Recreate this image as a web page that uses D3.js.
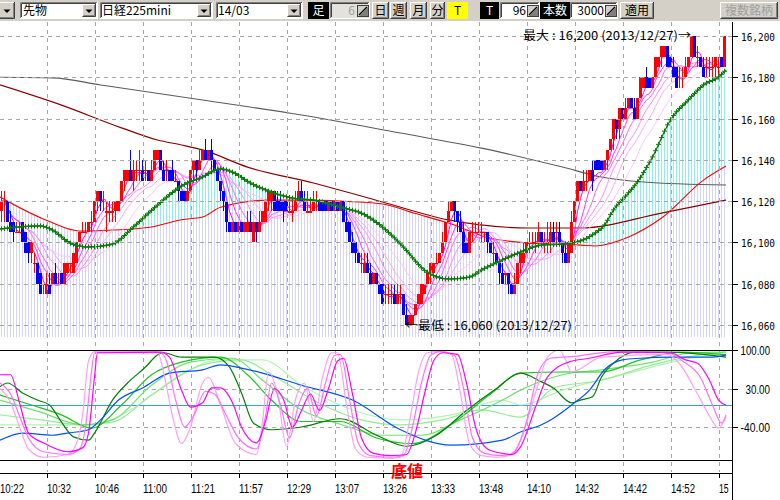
<!DOCTYPE html>
<html lang="ja"><head><meta charset="utf-8"><title>日経225mini</title>
<script src="https://cdn.jsdelivr.net/npm/d3@7/dist/d3.min.js"></script>
<style>html,body{margin:0;padding:0;background:#fff;overflow:hidden}svg{display:block}</style>
</head><body>
<svg id="chart" width="780" height="500"></svg>
<script>
// ---------------- DATA (price = BASE + value) ----------------
const BASE = 16000;
const opens = [
115,120,120,110,110,105,105,110,105,100,95,90,90,85,80,75,
80,80,85,80,85,80,85,90,85,90,100,105,105,105,110,110,
120,125,120,115,115,115,115,115,120,130,130,135,130,135,135,135,
135,135,130,135,140,145,135,135,135,135,130,130,125,125,120,125,
135,140,135,140,145,140,145,140,135,130,125,120,110,105,110,105,
110,105,105,110,100,110,105,110,110,120,120,125,120,120,120,120,
115,115,115,120,125,120,115,115,115,120,120,120,120,115,120,115,
120,115,120,110,110,100,100,95,90,85,90,85,80,85,80,80,
75,75,75,75,70,75,75,65,60,60,65,70,70,75,80,85,
85,90,90,95,100,110,115,120,115,110,105,100,95,105,105,105,
105,105,105,100,95,95,90,85,85,85,80,75,80,90,90,95,
100,100,100,100,105,100,100,100,105,105,105,100,95,90,95,110,
120,130,125,130,130,135,140,140,140,135,140,145,150,160,155,165,
160,165,170,165,160,170,175,180,180,175,180,185,190,190,195,190,
185,185,180,180,180,185,190,200,190,190,185,185,185,185,185,185,190,185];
const closes = [
120,120,110,105,105,105,105,100,95,95,100,90,80,75,80,80,
75,85,80,80,80,90,90,90,95,100,105,105,105,110,110,120,
125,120,120,115,115,115,120,120,130,135,135,130,135,135,135,130,
135,130,135,145,145,135,130,135,130,130,130,125,120,120,125,135,
140,135,140,145,140,145,140,135,130,125,120,110,105,110,105,110,
105,110,110,105,110,105,110,115,120,125,125,115,115,115,115,115,
115,115,120,125,120,115,115,115,120,120,115,115,115,120,115,120,
115,120,110,105,100,95,95,90,90,90,85,80,85,80,75,70,
75,75,75,70,75,75,65,60,65,65,70,75,80,80,85,90,
90,90,95,100,110,115,120,115,110,105,95,95,105,105,105,105,
105,105,100,95,95,90,85,80,85,80,75,80,90,95,95,100,
100,100,100,105,100,100,100,105,100,105,100,95,90,100,110,120,
130,125,130,130,135,130,135,135,135,140,145,150,160,155,165,160,
165,170,165,160,170,180,180,175,175,180,190,190,195,195,185,185,
180,175,180,180,185,190,200,190,190,185,180,185,185,185,190,185,185,200];
const highs = [
125,125,120,115,110,110,110,110,105,100,100,95,90,85,80,85,
85,85,90,85,85,90,90,90,95,100,105,110,110,110,115,120,
125,125,125,120,120,120,120,120,130,135,135,145,140,140,145,140,
140,135,140,145,145,145,140,140,135,140,135,130,125,125,130,135,
140,140,145,145,150,145,150,140,135,130,125,120,110,110,110,110,
110,110,115,115,110,110,115,115,120,125,125,125,125,125,120,120,
120,120,125,130,130,125,125,120,125,125,120,120,120,120,120,120,
120,120,120,115,110,105,100,95,95,95,95,90,85,85,80,80,
80,80,80,80,80,80,75,70,65,65,70,75,80,80,85,90,
90,95,95,105,110,120,120,120,115,115,110,100,105,110,110,110,
110,105,105,100,100,95,90,90,85,85,80,85,90,95,100,100,
105,105,105,110,105,105,110,110,110,110,110,100,100,100,115,120,
130,130,135,135,135,140,140,140,140,140,145,150,160,160,165,165,
170,170,170,170,170,180,180,185,180,180,190,190,195,195,195,190,
190,185,185,185,190,190,200,200,195,190,190,190,190,190,190,190,190,200];
const lows = [
110,110,110,105,100,105,105,100,95,90,90,85,80,75,75,75,
75,80,80,80,80,80,85,85,85,90,100,105,105,105,105,110,
115,115,115,105,110,110,110,115,120,125,130,130,125,130,130,130,
130,130,130,135,140,135,130,130,130,130,130,120,120,120,120,125,
130,130,135,140,140,140,135,135,130,120,115,105,105,105,105,105,
105,105,105,105,100,100,105,110,110,115,115,115,115,115,110,115,
115,110,115,120,120,115,115,115,115,115,115,115,115,115,115,115,
115,115,110,105,100,95,90,90,85,85,85,80,80,80,75,70,
70,70,70,70,70,70,65,60,60,60,65,70,70,75,80,80,
85,90,90,95,100,110,115,110,105,105,95,95,95,100,105,105,
100,100,95,95,90,90,80,80,80,75,75,75,80,85,90,95,
95,100,95,100,100,95,95,95,100,100,100,90,90,90,95,110,
120,125,125,125,130,125,135,135,135,135,135,145,145,150,150,160,
160,165,165,160,160,170,175,175,175,175,180,185,185,190,185,185,
180,175,175,175,180,185,190,190,185,185,180,180,180,180,180,180,185,185];

const timeLabels = ["10:22","10:32","10:46","11:00","11:21","11:57","12:29","13:07","13:26","13:33","13:48","14:10","14:32","14:42","14:52","15"];
const priceTicks = [16060,16080,16100,16120,16140,16160,16180,16200];
const oscTicks = [100,30,-40];
const pinkPeriods = [4,7,10,14,18,24];

// moving averages: [bar, value]
const maGreen = [[0,106.5],[13,108],[17,106],[23,99.7],[29,97.8],[37,99.2],[44,107.5],[52,118],[60,127.3],[67,131.7],[73,135.6],[77,134.1],[83,128.8],[90,124.4],[97,121.5],[104,120.5],[114,116.7],[120,114.2],[127,107.5],[134,97.8],[141,86.6],[149,82.3],[156,83.2],[160,86.6],[167,91.5],[173,95.3],[180,98.7],[187,99.2],[193,100.7],[198,104.6],[201,108.4],[204,115.7],[209,123.9],[212,129.3],[217,141.4],[223,159.3],[229,169],[234,176.3],[239,180.1],[241,183.5]];
const maRed = [[0,122],[13,112],[27,105.5],[37,106],[50,107.5],[60,111],[67,112.3],[73,117],[89,120.5],[102,120.5],[113,120],[127,118.6],[138,114],[149,109.4],[163,102],[176,99.7],[193,98.7],[198,98.3],[209,102.6],[220,111.8],[234,130.2],[241,137]];
const maDarkRed = [[0,176.3],[20,166.5],[40,155.5],[52,149.6],[60,147.2],[67,144.8],[82,136.5],[104,128.8],[127,119.6],[149,110.9],[176,107],[193,107],[220,114.2],[241,120.5]];
const maGrey = [[0,180],[17,179.7],[33,176.3],[67,169],[100,161.7],[133,153],[160,145.7],[187,136.5],[200,131.7],[214,129.3],[241,127.8]];

// oscillator (RCI style, -100..100): [bar, value]
const rciMagenta = [[0,55],[3,55],[6,4],[9,-51],[14,-69],[22,-85],[27,-78],[29,-51],[31,51],[32,95],[53,96],[56,87],[60,27],[63,-4],[67,4],[70,31],[73,31],[77,4],[80,-40],[85,-69],[88,-30],[91,30],[94,10],[97,-40],[100,-10],[103,20],[106,-10],[109,30],[112,80],[114,85],[117,20],[120,-60],[124,-88],[130,-92],[135,-90],[138,-50],[141,20],[144,80],[147,95],[152,92],[155,40],[158,-40],[162,-80],[167,-88],[170,-90],[173,-76],[178,-4],[182,51],[189,78],[196,85],[207,96],[223,95],[228,82],[232,76],[236,45],[239,9],[241,0]];
const rciPink = [[0,40],[3,20],[6,-20],[9,-60],[14,-85],[22,-90],[26,-80],[28,-40],[30,60],[31,95],[53,95],[55,80],[58,10],[61,-40],[64,-20],[68,25],[71,20],[75,-20],[79,-60],[85,-80],[88,-20],[90,40],[93,0],[96,-60],[99,0],[102,30],[105,-20],[108,40],[111,90],[113,92],[116,10],[119,-70],[123,-92],[130,-95],[134,-92],[137,-40],[140,40],[143,90],[146,97],[151,90],[154,30],[157,-60],[161,-88],[167,-92],[171,-85],[175,-30],[179,60],[183,85],[190,88],[205,97],[222,95],[227,80],[233,50],[237,0],[240,-33],[241,-18]];
const rciLightPink = [[0,30],[3,5],[6,-40],[9,-80],[14,-95],[22,-90],[25,-70],[27,-20],[29,80],[31,97],[52,97],[54,60],[57,-20],[60,-70],[63,-40],[67,40],[69,50],[73,0],[78,-70],[85,-90],[87,-30],[89,60],[92,20],[95,-75],[98,10],[101,40],[104,-30],[107,50],[110,95],[112,95],[115,0],[118,-80],[122,-95],[130,-97],[133,-95],[136,-30],[139,60],[142,95],[146,98],[150,92],[153,20],[156,-70],[160,-92],[166,-95],[170,-90],[173,-64],[179,40],[182,87],[186,100],[188,82],[190,60],[200,87],[222,92],[226,75],[232,20],[236,-20],[239,-42],[241,-22]];
const rciDarkGreen = [[0,33],[2,40],[7,22],[12,9],[16,0],[20,-31],[24,-58],[29,-64],[31,-51],[37,9],[42,40],[48,69],[52,91],[54,95],[60,87],[71,87],[76,69],[80,22],[84,-33],[90,-45],[100,-40],[113,-25],[125,-55],[135,-75],[145,-55],[155,-10],[165,30],[173,58],[180,42],[184,31],[190,4],[193,9],[197,15],[200,51],[204,76],[211,96],[222,96],[241,87]];
const rciGreen = [[0,18],[10,0],[20,-18],[30,-42],[40,0],[50,55],[60,78],[73,87],[82,55],[90,9],[100,-30],[113,-30],[125,-60],[137,-70],[150,-35],[163,20],[173,58],[187,60],[200,60],[213,82],[227,96],[241,91]];
const rciLight1 = [[0,9],[13,-13],[27,-36],[37,-27],[50,36],[63,78],[77,85],[87,45],[100,-9],[113,-35],[127,-55],[140,-55],[153,-27],[167,9],[173,27],[187,55],[200,64],[217,78],[230,95],[241,96]];
const rciLight2 = [[0,-18],[13,-27],[27,-36],[37,-31],[50,18],[67,73],[80,82],[90,55],[107,0],[120,-27],[133,-36],[147,-27],[160,-9],[173,-22],[184,31],[200,45],[217,73],[233,91],[241,96]];
const rciLight3 = [[0,-36],[17,-36],[30,-36],[43,-9],[57,45],[73,82],[87,82],[100,36],[117,-9],[133,-27],[150,-18],[167,9],[173,0],[187,27],[207,55],[227,82],[241,95]];
const rciBlue = [[0,-64],[7,-51],[17,-55],[22,-51],[29,-45],[33,-27],[39,9],[47,31],[56,58],[67,64],[73,73],[80,67],[87,58],[100,36],[117,9],[133,-45],[150,-73],[167,-64],[173,-49],[180,-36],[184,-24],[191,4],[196,27],[201,64],[207,82],[213,85],[223,87],[237,87],[241,91]];

// ---------------- DRAWING ----------------
const svg = d3.select('#chart');
const JP = '"Noto Sans CJK JP", sans-serif';
const MONO = '"DejaVu Sans Mono", monospace';
const N = closes.length;
const PLOT_R = 732, MAIN_T = 22, STRIPE_B = 337;
const x = d3.scaleLinear().domain([0, 240]).range([0, 720]);
const yP = d3.scaleLinear().domain([16060, 16200]).range([325, 36]);
const yO = d3.scaleLinear().domain([-100, 100]).range([460, 350]);
const cx = i => x(i) + 1.5;
const py = v => yP(BASE + v);
const kx = d => d[0] <= 0 ? 0 : d[0] >= N - 1 ? x(N) : cx(d[0]);

svg.append('rect').attr('width', 780).attr('height', 500).attr('fill', '#fff');
const defs = svg.append('defs');
[['lav', '#d4d4f6'], ['cya', '#8cefec']].forEach(([id, c]) => {
  const p = defs.append('pattern').attr('id', id).attr('patternUnits', 'userSpaceOnUse').attr('width', 3).attr('height', 4);
  p.append('rect').attr('x', 1).attr('y', 0).attr('width', 1).attr('height', 4).attr('fill', c);
});
defs.append('clipPath').attr('id', 'mainClip').append('rect').attr('x', 0).attr('y', MAIN_T).attr('width', PLOT_R).attr('height', 325);
defs.append('clipPath').attr('id', 'oscClip').append('rect').attr('x', 0).attr('y', 349).attr('width', PLOT_R).attr('height', 112);
const areaBelow = d3.area().x(kx).y0(STRIPE_B).y1(d => py(d[1])).curve(d3.curveMonotoneX);
const areaAbove = d3.area().x(kx).y0(MAIN_T).y1(d => py(d[1])).curve(d3.curveMonotoneX);
defs.append('clipPath').attr('id', 'aboveRed').append('path').attr('d', areaAbove(maRed));

const main = svg.append('g').attr('clip-path', 'url(#mainClip)');
main.append('path').attr('d', areaBelow(maRed)).attr('fill', 'url(#lav)');
main.append('path').attr('d', areaBelow(maGreen)).attr('fill', 'url(#cya)').attr('clip-path', 'url(#aboveRed)');

// grid
const grid = svg.append('g').attr('stroke', '#a8a8a8').attr('stroke-dasharray', '4,4').attr('shape-rendering', 'crispEdges');
priceTicks.forEach(p => {
  const yy = Math.round(yP(p)) + 0.5;
  grid.append('line').attr('x1', 0).attr('x2', PLOT_R).attr('y1', yy).attr('y2', yy);
});
[30, -40].forEach(v => {
  const yy = Math.round(yO(v)) + 0.5;
  grid.append('line').attr('x1', 0).attr('x2', PLOT_R).attr('y1', yy).attr('y2', yy);
});
timeLabels.forEach((t, k) => {
  if (k === 0) return;
  const xx = x(16 * k) - 0.5;
  grid.append('line').attr('x1', xx).attr('x2', xx).attr('y1', MAIN_T).attr('y2', 472);
});

// long moving averages
const lineP = d3.line().x(kx).y(d => py(d[1])).curve(d3.curveMonotoneX);
[[maGrey, '#5c5c5c', 1.1], [maDarkRed, '#8b0000', 1.2], [maRed, '#ff0000', 1.1]].forEach(([d, c, w]) => {
  main.append('path').attr('d', lineP(d)).attr('fill', 'none').attr('stroke', c).attr('stroke-width', w);
});

// short moving averages (pink fan) computed from closes
const pinkColors = ['#ff00ff', '#ff33ff', '#ff60ff', '#ff88ff', '#ffa8ff', '#ffc4ff'];
const lineS = d3.line().x(d => cx(d[0])).y(d => py(d[1]));
pinkPeriods.map((p, k) => [p, k]).reverse().forEach(([p, k]) => {
  const pts = closes.map((c, i) => [i, d3.mean(closes.slice(Math.max(0, i - p + 1), i + 1))]);
  main.append('path').attr('d', lineS(pts)).attr('fill', 'none').attr('stroke', pinkColors[k]).attr('stroke-width', 1);
});

// candles
const cg = main.append('g').attr('shape-rendering', 'crispEdges');
d3.range(N).forEach(i => {
  const o = opens[i], c = closes[i];
  const col = c < o ? '#0000ff' : '#ff0000';
  cg.append('rect').attr('x', x(i) + 1).attr('width', 1)
    .attr('y', py(highs[i])).attr('height', Math.max(1, py(lows[i]) - py(highs[i]))).attr('fill', col);
  const top = py(Math.max(o, c)), bot = py(Math.min(o, c));
  cg.append('rect').attr('x', x(i)).attr('width', 3).attr('y', top).attr('height', Math.max(1.2, bot - top)).attr('fill', col);
});

// green MA with + markers
const gp = main.append('path').attr('d', lineP(maGreen)).attr('fill', 'none').attr('stroke', '#0a7a0a').attr('stroke-width', 1.3);
const gnode = gp.node(), gL = gnode.getTotalLength();
const samples = d3.range(0, gL, 0.5).map(l => gnode.getPointAtLength(l));
const bis = d3.bisector(p => p.x).left;
let plusD = '';
d3.range(N).forEach(i => {
  const xc = cx(i);
  let j = Math.min(bis(samples, xc), samples.length - 1);
  const yy = samples[j].y;
  plusD += `M${xc - 2.5},${yy}h5M${xc},${yy - 2.5}v5`;
});
main.append('path').attr('d', plusD).attr('stroke', '#0a7a0a').attr('stroke-width', 1).attr('fill', 'none');

// annotations
svg.append('text').attr('x', 523).attr('y', 40).text('最大 : 16,200 (2013/12/27)→')
  .attr('font-family', JP).attr('font-size', 12).attr('textLength', 168).attr('lengthAdjust', 'spacingAndGlyphs').attr('fill', '#000');
svg.append('text').attr('x', 405).attr('y', 330).text('←最低 : 16,060 (2013/12/27)')
  .attr('font-family', JP).attr('font-size', 12).attr('textLength', 167).attr('lengthAdjust', 'spacingAndGlyphs').attr('fill', '#000');

// oscillator panel
const osc = svg.append('g').attr('clip-path', 'url(#oscClip)');
osc.append('line').attr('x1', 0).attr('x2', PLOT_R).attr('y1', yO(0) + 0.5).attr('y2', yO(0) + 0.5).attr('stroke', '#3399ff').attr('stroke-width', 1);
const lineO = d3.line().x(kx).y(d => yO(d[1])).curve(d3.curveMonotoneX);
[[rciLight3, '#b4f4b4'], [rciLight2, '#96ec96'], [rciLight1, '#6ce46c'], [rciGreen, '#1fc01f'], [rciDarkGreen, '#008000'],
 [rciBlue, '#0050ff'], [rciLightPink, '#ffa0f4'], [rciPink, '#ff70ff'], [rciMagenta, '#ff00ff']].forEach(([d, c]) => {
  osc.append('path').attr('d', lineO(d)).attr('fill', 'none').attr('stroke', c).attr('stroke-width', 1.2);
});
[100, -100].forEach(v => {
  svg.append('line').attr('x1', 0).attr('x2', PLOT_R).attr('y1', yO(v) + 0.5).attr('y2', yO(v) + 0.5).attr('stroke', '#000').attr('shape-rendering', 'crispEdges');
});

// axes
const ax = svg.append('g').attr('shape-rendering', 'crispEdges');
ax.append('line').attr('x1', PLOT_R + 0.5).attr('x2', PLOT_R + 0.5).attr('y1', MAIN_T).attr('y2', 500).attr('stroke', '#000');
ax.append('line').attr('x1', 0).attr('x2', PLOT_R).attr('y1', 473.5).attr('y2', 473.5).attr('stroke', '#000');
priceTicks.forEach(p => {
  const yy = Math.round(yP(p)) + 0.5;
  ax.append('line').attr('x1', PLOT_R).attr('x2', PLOT_R + 6).attr('y1', yy).attr('y2', yy).attr('stroke', '#000');
  svg.append('text').attr('x', 741).attr('y', yy + 4.5).text(d3.format(',')(p))
    .attr('font-family', MONO).attr('font-size', 11).attr('textLength', 34).attr('lengthAdjust', 'spacingAndGlyphs').attr('fill', '#000');
});
oscTicks.forEach(v => {
  const yy = Math.round(yO(v)) + 0.5;
  ax.append('line').attr('x1', PLOT_R).attr('x2', PLOT_R + 6).attr('y1', yy).attr('y2', yy).attr('stroke', '#000');
  const t = v.toFixed(2);
  svg.append('text').attr('x', 770).attr('y', yy + 4.5).attr('text-anchor', 'end').text(t)
    .attr('font-family', '"Liberation Sans", sans-serif').attr('font-size', 12).attr('textLength', t.length * 4.9).attr('lengthAdjust', 'spacingAndGlyphs').attr('fill', '#000');
});
timeLabels.forEach((t, k) => {
  const xx = x(16 * k) - 0.5;
  ax.append('line').attr('x1', xx).attr('x2', xx).attr('y1', 473).attr('y2', 478).attr('stroke', '#000');
  svg.append('text').attr('x', Math.max(0, xx - 0.5)).attr('y', 493).text(t)
    .attr('font-family', '"Liberation Sans", sans-serif').attr('font-size', 12).attr('textLength', t.length * 4.8).attr('lengthAdjust', 'spacingAndGlyphs').attr('fill', '#000');
});
svg.append('text').attr('x', 407).attr('y', 477).attr('text-anchor', 'middle').text('底値')
  .attr('font-family', JP).attr('font-size', 16).attr('font-weight', 'bold').attr('fill', '#ff0000');

// ---------------- TOOLBAR ----------------
const tb = svg.append('g').attr('font-family', JP).attr('font-size', 12);
tb.append('rect').attr('x', 0).attr('y', 0).attr('width', 780).attr('height', 21).attr('fill', '#d4d0c8');
function raised(x0, y0, w, h) {
  tb.append('rect').attr('x', x0).attr('y', y0).attr('width', w).attr('height', h).attr('fill', '#d4d0c8');
  tb.append('path').attr('d', `M${x0 + 0.5},${y0 + h - 1}V${y0 + 0.5}H${x0 + w - 1}`).attr('stroke', '#fff').attr('fill', 'none');
  tb.append('path').attr('d', `M${x0 + 0.5},${y0 + h - 0.5}H${x0 + w - 0.5}V${y0}`).attr('stroke', '#404040').attr('fill', 'none');
  tb.append('path').attr('d', `M${x0 + 1.5},${y0 + h - 1.5}H${x0 + w - 1.5}V${y0 + 1}`).attr('stroke', '#808080').attr('fill', 'none');
}
function sunken(x0, y0, w, h, fill) {
  tb.append('rect').attr('x', x0).attr('y', y0).attr('width', w).attr('height', h).attr('fill', fill);
  tb.append('path').attr('d', `M${x0 + 0.5},${y0 + h - 1}V${y0 + 0.5}H${x0 + w - 1}`).attr('stroke', '#808080').attr('fill', 'none');
  tb.append('path').attr('d', `M${x0 + 1.5},${y0 + h - 2}V${y0 + 1.5}H${x0 + w - 2}`).attr('stroke', '#404040').attr('fill', 'none');
  tb.append('path').attr('d', `M${x0 + 0.5},${y0 + h - 0.5}H${x0 + w - 0.5}V${y0}`).attr('stroke', '#fff').attr('fill', 'none');
}
function tri(cx0, cy0) {
  tb.append('path').attr('d', `M${cx0 - 3.5},${cy0 - 1.5}h7l-3.5,3.5z`).attr('fill', '#000');
}
function txt(s, x0, opts = {}) {
  const t = tb.append('text').attr('x', x0).attr('y', 15).text(s).attr('fill', opts.fill || '#000');
  if (opts.anchor) t.attr('text-anchor', opts.anchor);
  return t;
}
function spinIcon(x0) {
  tb.append('rect').attr('x', x0 + 0.5).attr('y', 5.5).attr('width', 11).attr('height', 11).attr('fill', '#d4d0c8').attr('stroke', '#404040');
  tb.append('path').attr('d', `M${x0 + 2},${15}L${x0 + 10},${7}`).attr('stroke', '#000').attr('stroke-width', 1.5);
  tb.append('path').attr('d', `M${x0 + 11},${7}v9h-9z`).attr('fill', '#808080');
}
raised(-2, 2, 17, 17); tri(7, 11);
sunken(20, 2, 78, 17, '#fff'); txt('先物', 23); raised(82, 4, 14, 13); tri(89, 11);
sunken(100, 2, 113, 17, '#fff'); txt('日経225mini', 102); raised(197, 4, 14, 13); tri(204, 11);
sunken(216, 2, 87, 17, '#fff'); txt('14/03', 218); raised(287, 4, 14, 13); tri(294, 11);
tb.append('rect').attr('x', 308).attr('y', 2).attr('width', 21).attr('height', 17).attr('fill', '#000'); txt('足', 318.5, { fill: '#fff', anchor: 'middle' });
sunken(330, 2, 40, 17, '#e4e2dc'); txt('6', 355, { fill: '#a0a0a0', anchor: 'end' }); spinIcon(357);
raised(372, 2, 17, 17); txt('日', 380.5, { anchor: 'middle' });
raised(390, 2, 17, 17); txt('週', 398.5, { anchor: 'middle' });
raised(410, 2, 17, 17); txt('月', 418.5, { anchor: 'middle' });
raised(430, 2, 15, 17); txt('分', 437.5, { anchor: 'middle' });
tb.append('rect').attr('x', 447).attr('y', 2).attr('width', 21).attr('height', 17).attr('fill', '#ffff00'); txt('T', 457.5, { anchor: 'middle' });
tb.append('rect').attr('x', 480).attr('y', 2).attr('width', 19).attr('height', 17).attr('fill', '#000'); txt('T', 489.5, { fill: '#fff', anchor: 'middle' });
sunken(500, 2, 40, 17, '#fff'); txt('96', 526, { anchor: 'end' }); spinIcon(527);
tb.append('rect').attr('x', 540).attr('y', 2).attr('width', 30).attr('height', 17).attr('fill', '#000'); txt('本数', 555, { fill: '#fff', anchor: 'middle' });
sunken(570, 2, 48, 17, '#fff'); txt('3000', 604, { anchor: 'end' }); spinIcon(605);
raised(620, 2, 34, 17); txt('適用', 637, { anchor: 'middle' });
raised(720, 2, 58, 17); txt('複数銘柄', 749, { fill: '#a0a0a0', anchor: 'middle' });
</script>
</body></html>
